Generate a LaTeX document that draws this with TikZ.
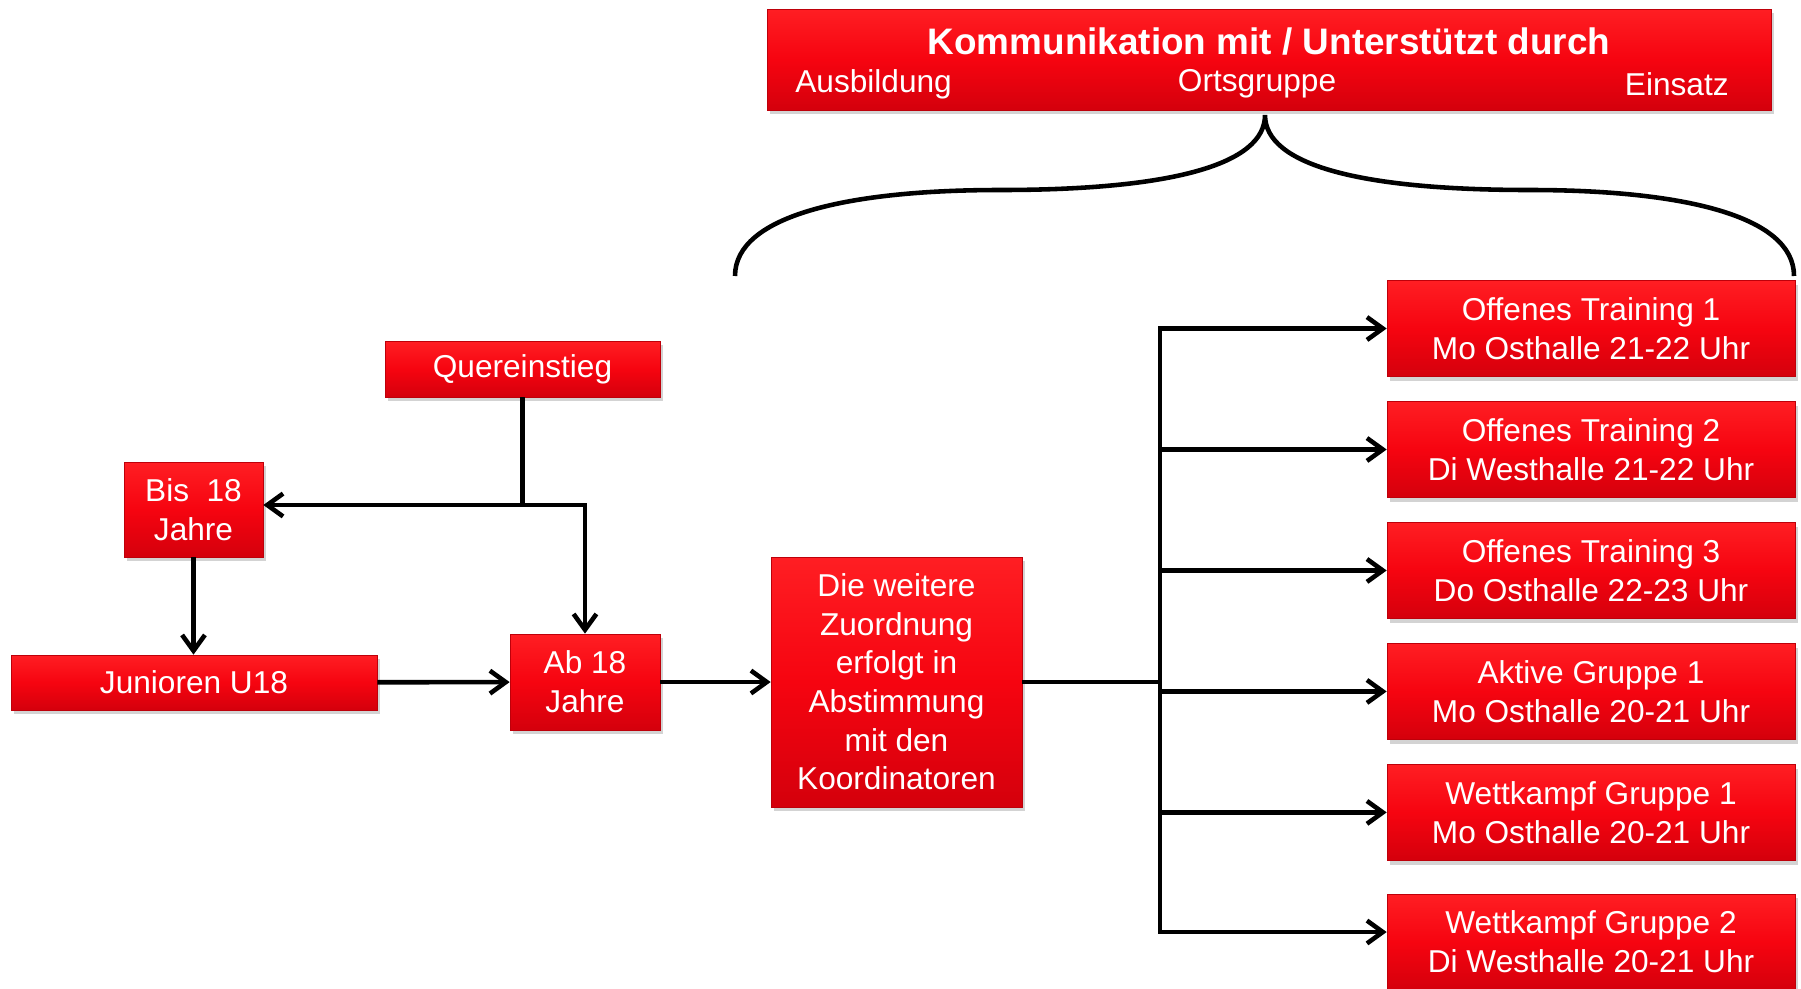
\documentclass[tikz,border=0pt]{standalone}
\usepackage{fontspec}
\setmainfont{Liberation Sans}
\usetikzlibrary{positioning, shadows, arrows.meta}

\definecolor{boxtop}{RGB}{255,30,35}
\definecolor{boxmid}{RGB}{246,4,16}
\definecolor{boxbot}{RGB}{212,0,12}
\definecolor{boxline}{RGB}{190,0,10}

\begin{document}
\begin{tikzpicture}[x=0.02cm, y=-0.02cm, node distance=2.42cm,
    >={Straight Barb[length=9pt,width=13pt]},
    box/.style={draw=boxline, line width=0.4pt, top color=boxtop, bottom color=boxbot,
        middle color=boxmid, text=white, align=center, inner sep=0pt,
        font=\fontsize{18}{22}\selectfont,
        drop shadow={opacity=0.35, shadow xshift=1.5pt, shadow yshift=-2.5pt}},
    wide/.style={minimum width=8.16cm, minimum height=1.92cm},
    toplabel/.style={text=white, inner sep=0pt, font=\fontsize{18}{22}\selectfont},
    conn/.style={line width=2.6pt}]
    \useasboundingbox (0,0) rectangle (1801,988);

    % Header
    \node[box, minimum width=20.08cm, minimum height=2.02cm] (top) at (1269,59.5) {};
    \node[toplabel, font=\bfseries\fontsize{21}{25}\selectfont] (title) at (1269,41) {Kommunikation mit / Unterstützt durch};
    \node[toplabel, anchor=west] (ausb) at (795,84) {Ausbildung};
    \node[toplabel] (orts) at (1257,84) {Ortsgruppe};
    \node[toplabel, anchor=east] (eins) at (1729,84) {Einsatz};

    % Boxes
    \node[box, minimum width=5.5cm, minimum height=1.12cm] (quer) at (522.5,369) {Quereinstieg};
    \node[box, minimum width=2.78cm, minimum height=1.9cm] (bis) at (193.5,509.5) {Bis~ 18\\Jahre};
    \node[box, minimum width=7.32cm, minimum height=1.1cm] (jun) at (194,682.5) {Junioren U18};
    \node[box, minimum width=3cm, minimum height=1.92cm] (ab) at (585,682) {Ab 18\\Jahre};
    \node[box, minimum width=5.02cm, minimum height=5cm] (mid) at (896.5,682)
        {Die weitere\\Zuordnung\\erfolgt in\\Abstimmung\\mit den\\Koordinatoren};

    \node[box, wide] (r1) at (1591,328.5) {Offenes Training 1\\Mo Osthalle 21-22 Uhr};
    \node[box, wide, below of=r1] (r2) {Offenes Training 2\\Di Westhalle 21-22 Uhr};
    \node[box, wide, below of=r2] (r3) {Offenes Training 3\\Do Osthalle 22-23 Uhr};
    \node[box, wide, below of=r3] (r4) {Aktive Gruppe 1\\Mo Osthalle 20-21 Uhr};
    \node[box, wide, below of=r4] (r5) {Wettkampf Gruppe 1\\Mo Osthalle 20-21 Uhr};
    \node[box, wide] (r6) at (1591,942) {Wettkampf Gruppe 2\\Di Westhalle 20-21 Uhr};

    % Brace
    \coordinate (bp) at (1265,115);
    \draw[conn] (735,276) .. controls (735,215) and (850,190) .. (1000,190)
        .. controls (1170,190) and (1265,165) .. (bp)
        .. controls (1265,165) and (1360,190) .. (1530,190)
        .. controls (1680,190) and (1794,215) .. (1794,276);

    % Connectors
    \coordinate (qj) at (522.5,505);
    \draw[conn] (quer) -- (qj);
    \draw[conn, ->] (qj) -- (qj -| bis.east);
    \draw[conn, ->] (qj) -| (ab);
    \draw[conn, ->] (bis) -- (bis |- jun.north);
    \draw[conn, ->] (jun) -- (ab);
    \draw[conn, ->] (ab) -- (mid);

    \coordinate (tk) at (1160,682);
    \coordinate (tkend) at (1160,932);
    \draw[conn] (mid) -- (tk);
    \draw[conn, line cap=rect] (tk |- r1.west) -- (tkend);
    \foreach \i in {1,...,5}
        \draw[conn, ->] (tk |- r\i.west) -- (r\i.west);
    \draw[conn, ->] (tkend) -- (tkend -| r6.west);
\end{tikzpicture}
\end{document}
